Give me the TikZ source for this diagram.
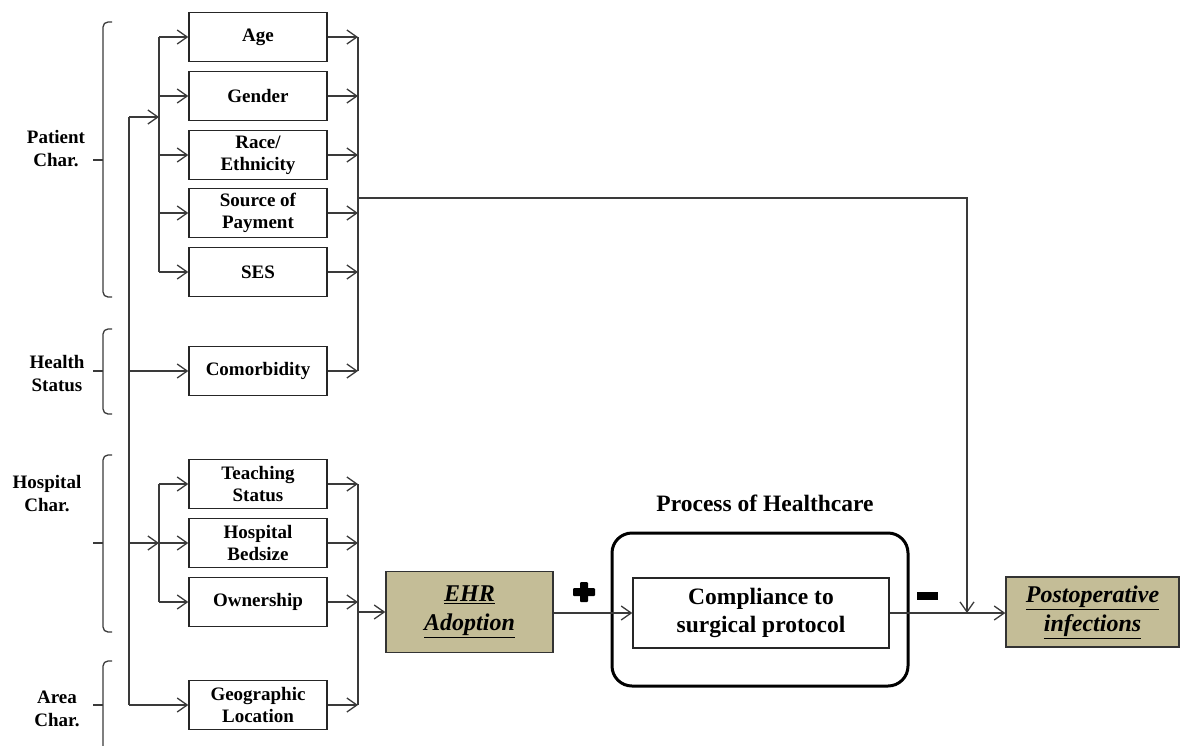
\documentclass[tikz,border=0pt]{standalone}
\usepackage{fontspec}
\setmainfont{Liberation Serif}
\usetikzlibrary{arrows.meta}
\definecolor{tanc}{HTML}{C4BD97}
\definecolor{linec}{HTML}{3A3A3A}
\newcommand\mybrace[3]{\draw[bracel, rounded corners=5pt] (112,#1) -- (103,#1) -- (103,#3) -- (112,#3); \draw[bracel] (93,#2) -- (103,#2);}
\begin{document}
\begin{tikzpicture}[x=1pt,y=-1pt,
 line/.style={draw=linec, line width=1.3pt},
 arr/.style={line, -{Straight Barb[length=10pt,width=14pt]}},
 box/.style={draw=black!85, line width=1.4pt, minimum width=138pt, minimum height=49pt, inner sep=0pt, align=center, font=\fontsize{19}{22}\selectfont\bfseries},
 lab/.style={align=center, font=\fontsize{19}{23}\selectfont\bfseries, inner sep=0pt},
 tanbox/.style={draw=black!80, line width=1.4pt, fill=tanc, align=center, font=\fontsize{24}{29}\selectfont\bfseries\itshape, inner sep=0pt},
 bracel/.style={draw=linec, line width=1.3pt}]
\useasboundingbox (0,0) rectangle (1181,745);

% boxes
\node[box] (age) at (258,37) {Age};
\node[box] (gender) at (258,96) {Gender};
\node[box] (race) at (258,155) {Race/\\Ethnicity};
\node[box] (pay) at (258,213) {Source of\\Payment};
\node[box] (ses) at (258,272) {SES};
\node[box] (comor) at (258,371) {Comorbidity};
\node[box] (teach) at (258,484) {Teaching\\Status};
\node[box] (bed) at (258,543) {Hospital\\Bedsize};
\node[box] (own) at (258,602) {Ownership};
\node[box] (geo) at (258,705) {Geographic\\Location};

\node[tanbox, minimum width=167pt, minimum height=81pt] (ehr) at (469.5,612) {\underline{EHR}\\\underline{Adoption}};
\node[draw=black, line width=3pt, rounded corners=20pt, minimum width=296pt, minimum height=153pt] (proc) at (760,609.5) {};
\node[draw=black!85, line width=1.4pt, fill=white, minimum width=256pt, minimum height=70pt, align=center, inner sep=0pt, font=\fontsize{23.5}{28}\selectfont\bfseries] (comp) at (761,613) {Compliance to\\surgical protocol};
\node[tanbox, minimum width=173pt, minimum height=70pt] (post) at (1092.5,612) {\underline{Postoperative}\\\underline{infections}};
\node[font=\fontsize{23.5}{27}\selectfont\bfseries, inner sep=0pt] (proclab) at (765,503) {Process of Healthcare};

% plus and minus
\node[fill=black, minimum width=22pt, minimum height=8pt, inner sep=0pt, rounded corners=1pt] (plush) at (584,592) {};
\node[fill=black, minimum width=8pt, minimum height=20pt, inner sep=0pt, rounded corners=1pt] (plusv) at (584,592) {};
\node[fill=black, minimum width=21pt, minimum height=8pt, inner sep=0pt] (minus) at (927,596) {};

% labels and braces
\node[lab] (lpat) at (56,149) {Patient\\Char.};
\node[lab] (lhea) at (57,374) {Health\\Status};
\node[lab] (lhos) at (47,494) {Hospital\\Char.};
\node[lab] (lare) at (57,709) {Area\\Char.};
\mybrace{22}{160}{297}
\mybrace{329}{371}{414}
\mybrace{455}{543}{632}
\mybrace{661}{705}{760}

% bus coordinates
\coordinate (lbus) at (159,0);
\coordinate (trtop) at (129,117);
\coordinate (rbus) at (358,0);
\coordinate (ptin) at (159,117);
\coordinate (pout) at (358,198);
\coordinate (pcorner) at (967,198);

% trunk
\draw[line] (trtop) -- (geo.west -| trtop);
\draw[arr] (trtop) -- (ptin);
\draw[arr] (comor.west -| trtop) -- (comor.west);
\draw[arr] (bed.west -| trtop) -- (bed.west -| lbus);
\draw[arr] (geo.west -| trtop) -- (geo.west);

% patient inner bus
\draw[line] (age.west -| lbus) -- (ses.west -| lbus);
\foreach \n in {age,gender,race,pay,ses} \draw[arr] (\n.west -| lbus) -- (\n.west);
% hospital inner bus
\draw[line] (teach.west -| lbus) -- (own.west -| lbus);
\foreach \n in {teach,bed,own} \draw[arr] (\n.west -| lbus) -- (\n.west);

% right buses
\foreach \n in {age,gender,race,pay,ses,comor,teach,bed,own,geo} \draw[arr] (\n.east) -- (\n.east -| rbus);
\draw[line] (age.east -| rbus) -- (comor.east -| rbus);
\draw[line] (teach.east -| rbus) -- (geo.east -| rbus);
\draw[arr] (ehr.west -| rbus) -- (ehr.west);

% main flow
\draw[arr] (pout) -- (pcorner) -- (pcorner |- comp.east);
\draw[arr] (ehr.east |- comp.west) -- (comp.west);
\draw[arr] (comp.east) -- (post.west |- comp.east);
\end{tikzpicture}
\end{document}
